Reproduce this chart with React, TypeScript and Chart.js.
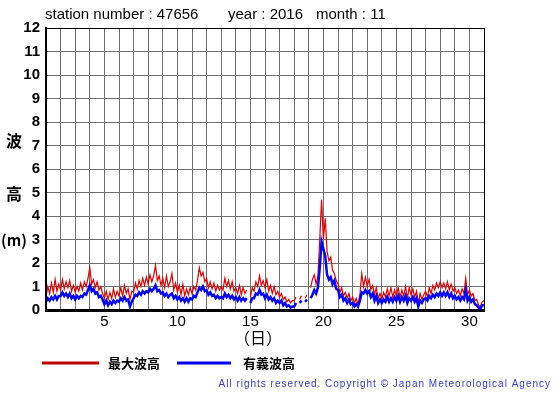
import { useEffect, useRef } from 'react';
import { Chart, registerables } from 'chart.js';

Chart.register(...registerables);

// 3-hourly samples starting at day 1 00:00 (8 per day), Nov 2016, station 47656
const STEPS_PER_DAY = 8;
const START_DAY = 1;

const maxWave: (number | null)[] = [
  // day 1
  0.55, 1.0, 0.7, 1.15, 0.75, 1.3, 0.8, 1.1,
  // day 2
  0.85, 1.3, 0.9, 1.2, 0.95, 1.25, 0.8, 1.05,
  // day 3
  0.75, 1.0, 0.8, 1.15, 0.85, 1.2, 1.0, 1.35,
  // day 4
  1.8, 1.1, 1.3, 0.95, 1.2, 0.85, 1.0, 0.7,
  // day 5
  0.5, 0.8, 0.45, 0.75, 0.5, 0.9, 0.55, 0.8,
  // day 6
  0.6, 0.95, 0.6, 1.05, 0.7, 0.9, 0.45, 0.8,
  // day 7
  0.75, 1.15, 0.9, 1.25, 1.0, 1.35, 1.05, 1.4,
  // day 8
  1.1, 1.5, 1.2, 1.45, 1.9, 1.25, 1.45, 1.05,
  // day 9
  1.35, 0.95, 1.45, 1.0, 1.2, 1.55, 0.85, 1.15,
  // day 10
  0.75, 1.05, 0.65, 1.1, 0.6, 0.9, 0.65, 0.95,
  // day 11
  0.7, 1.0, 0.85, 1.25, 1.8, 1.45, 1.6, 1.2,
  // day 12
  1.35, 0.95, 1.2, 0.9, 1.15, 0.8, 1.05, 0.85,
  // day 13
  1.0, 0.85, 1.35, 1.0, 1.25, 0.9, 1.2, 0.8,
  // day 14
  0.95, 0.7, 1.05, 0.65, 0.95, 0.7, 0.85, null,
  // day 15
  0.55, 0.95, 0.8, 1.2, 1.0, 1.45, 1.05, 1.25,
  // day 16
  0.95, 1.3, 0.8, 1.05, 0.7, 1.0, 0.65, 0.8,
  // day 17
  0.55, 0.7, 0.45, 0.55, 0.35, 0.45, 0.3, 0.4,
  // day 18
  0.4, 0.55, null, 0.45, 0.6, null, 0.5, 0.65,
  // day 19
  null, 0.95, 1.3, 1.5, 1.1, 1.45, 3.0, 4.7,
  // day 20
  3.0, 3.9, 2.5, 2.1, 2.25, 1.7, 1.55, 1.25,
  // day 21
  1.1, 0.75, 0.95, 0.6, 0.75, 0.5, 0.7, 0.4,
  // day 22
  0.55, 0.3, 0.5, 0.25, 0.65, 1.55, 1.0, 1.4,
  // day 23
  1.0, 1.3, 0.85, 1.05, 0.65, 0.95, 0.5, 0.7,
  // day 24
  0.45, 0.75, 0.55, 0.9, 0.6, 0.95, 0.55, 0.85,
  // day 25
  0.6, 0.95, 0.55, 0.85, 0.6, 1.0, 0.5, 0.95,
  // day 26
  0.65, 0.9, 0.55, 0.8, 0.3, 0.7, 0.45, 0.65,
  // day 27
  0.8, 0.55, 0.95, 0.7, 1.05, 0.85, 1.15, 0.95,
  // day 28
  1.2, 0.95, 1.15, 0.9, 1.2, 0.85, 1.1, 0.8,
  // day 29
  0.95, 0.7, 0.85, 0.6, 0.9, 0.7, 1.35, 0.65,
  // day 30
  0.85, 0.6, 0.7, 0.4, 0.45, 0.2, 0.15, 0.35,
  // day 31 00:00
  0.4,
];

const sigWave: (number | null)[] = [
  // day 1
  0.35, 0.5, 0.4, 0.55, 0.45, 0.6, 0.45, 0.6,
  // day 2
  0.6, 0.75, 0.6, 0.7, 0.55, 0.7, 0.5, 0.6,
  // day 3
  0.45, 0.6, 0.5, 0.6, 0.55, 0.7, 0.65, 0.85,
  // day 4
  1.05, 0.8, 0.9, 0.7, 0.75, 0.55, 0.6, 0.45,
  // day 5
  0.25, 0.4, 0.2, 0.35, 0.25, 0.4, 0.3, 0.4,
  // day 6
  0.35, 0.5, 0.4, 0.55, 0.4, 0.45, 0.15, 0.35,
  // day 7
  0.5, 0.65, 0.6, 0.75, 0.65, 0.8, 0.7, 0.8,
  // day 8
  0.75, 0.9, 0.8, 0.9, 1.05, 0.8, 0.85, 0.7,
  // day 9
  0.75, 0.6, 0.7, 0.55, 0.65, 0.7, 0.5, 0.6,
  // day 10
  0.45, 0.55, 0.4, 0.5, 0.35, 0.5, 0.35, 0.5,
  // day 11
  0.45, 0.6, 0.55, 0.75, 0.95, 0.85, 1.0, 0.8,
  // day 12
  0.85, 0.65, 0.75, 0.6, 0.65, 0.5, 0.6, 0.5,
  // day 13
  0.55, 0.5, 0.7, 0.55, 0.65, 0.5, 0.6, 0.45,
  // day 14
  0.55, 0.4, 0.55, 0.4, 0.5, 0.4, 0.5, null,
  // day 15
  0.3, 0.5, 0.5, 0.7, 0.65, 0.85, 0.65, 0.7,
  // day 16
  0.5, 0.65, 0.45, 0.55, 0.4, 0.5, 0.3, 0.4,
  // day 17
  0.3, 0.4, 0.2, 0.3, 0.15, 0.2, 0.1, 0.15,
  // day 18
  0.15, 0.3, null, 0.3, 0.4, null, 0.35, 0.45,
  // day 19
  null, 0.5, 0.65, 0.85, 0.7, 0.95, 1.8, 2.9,
  // day 20
  2.6, 2.3, 1.5, 1.3, 1.4, 1.1, 1.25, 0.9,
  // day 21
  0.85, 0.55, 0.65, 0.4, 0.5, 0.3, 0.45, 0.25,
  // day 22
  0.3, 0.15, 0.25, 0.15, 0.4, 0.75, 0.7, 0.85,
  // day 23
  0.7, 0.8, 0.55, 0.7, 0.4, 0.6, 0.3, 0.45,
  // day 24
  0.3, 0.45, 0.35, 0.55, 0.35, 0.5, 0.35, 0.55,
  // day 25
  0.4, 0.6, 0.35, 0.55, 0.4, 0.6, 0.3, 0.5,
  // day 26
  0.4, 0.55, 0.35, 0.5, 0.15, 0.4, 0.3, 0.45,
  // day 27
  0.5, 0.4, 0.6, 0.5, 0.65, 0.55, 0.7, 0.6,
  // day 28
  0.75, 0.6, 0.75, 0.6, 0.75, 0.55, 0.7, 0.5,
  // day 29
  0.6, 0.45, 0.55, 0.4, 0.55, 0.45, 0.85, 0.4,
  // day 30
  0.55, 0.35, 0.45, 0.25, 0.2, 0.1, 0.05, 0.2,
  // day 31 00:00
  0.2,
];

const xLabelDays = [5, 10, 15, 20, 25, 30];
const X_MIN = 1;
const X_MAX = 31;
const Y_MIN = 0;
const Y_MAX = 12;

const seriesNames = ['最大波高', '有義波高'];
const titleParts = ['station number : 47656', 'year : 2016', 'month : 11'];
const yTitleChars = ['波', '高', '(m)'];
const xTitle = '（日）';
const copyright = 'All rights reserved. Copyright © Japan Meteorological Agency';

const toPoints = (arr: (number | null)[]) =>
  arr.map((v, i) => ({ x: START_DAY + i / STEPS_PER_DAY, y: v }));

const SANS = '"Liberation Sans", Arial, sans-serif';
const CJK = '"Noto Sans CJK JP", sans-serif';

const decorPlugin = {
  id: 'decor',
  afterDraw(chart: any) {
    const ctx = chart.ctx as CanvasRenderingContext2D;
    const { left, top, right, bottom } = chart.chartArea;
    ctx.save();
    // frame
    ctx.strokeStyle = '#000';
    ctx.lineWidth = 1;
    ctx.strokeRect(left + 0.5, top + 0.5, right - left, bottom - top);
    ctx.lineWidth = 2;
    ctx.beginPath();
    ctx.moveTo(left, top);
    ctx.lineTo(left, bottom + 1);
    ctx.lineTo(right + 1, bottom + 1);
    ctx.stroke();

    // title
    ctx.fillStyle = '#000';
    ctx.textBaseline = 'middle';
    ctx.textAlign = 'left';
    ctx.font = `15px ${SANS}`;
    ctx.fillText(titleParts[0], 45, 15);
    ctx.fillText(titleParts[1], 228, 15);
    ctx.fillText(titleParts[2], 316, 15);

    // y title
    ctx.textAlign = 'center';
    ctx.font = `bold 16px ${CJK}`;
    ctx.fillText(yTitleChars[0], 14, 141);
    ctx.fillText(yTitleChars[1], 14, 194);
    ctx.textAlign = 'left';
    ctx.font = `bold 15px ${CJK}`;
    ctx.fillText(yTitleChars[2], 1, 240);

    // x title
    ctx.textAlign = 'center';
    ctx.font = `16px ${CJK}`;
    ctx.fillText(xTitle, 258, 338);

    // legend
    ctx.lineWidth = 3;
    ctx.strokeStyle = '#c00000';
    ctx.beginPath();
    ctx.moveTo(42, 363);
    ctx.lineTo(99, 363);
    ctx.stroke();
    ctx.strokeStyle = '#0000ff';
    ctx.beginPath();
    ctx.moveTo(177, 363);
    ctx.lineTo(231, 363);
    ctx.stroke();
    ctx.textAlign = 'left';
    ctx.font = `bold 13px ${CJK}`;
    ctx.fillText(seriesNames[0], 108, 363);
    ctx.fillText(seriesNames[1], 243, 363);

    // copyright
    ctx.fillStyle = '#3a3ad0';
    ctx.font = `10px ${SANS}`;
    (ctx as any).letterSpacing = '1px';
    ctx.textAlign = 'right';
    ctx.fillText(copyright, 551, 384);
    ctx.restore();
  },
};

export default function App() {
  const ref = useRef<HTMLCanvasElement | null>(null);
  useEffect(() => {
    document.body.style.margin = '0';
    const canvas = ref.current;
    if (!canvas) return;
    const chart = new Chart(canvas, {
      type: 'line',
      data: {
        datasets: [
          {
            label: seriesNames[0],
            data: toPoints(maxWave) as any,
            borderColor: '#dd0000',
            borderWidth: 1.2,
            pointRadius: 0,
            spanGaps: false,
            tension: 0,
            order: 2,
          },
          {
            label: seriesNames[1],
            data: toPoints(sigWave) as any,
            borderColor: '#0000ff',
            borderWidth: 2.5,
            pointRadius: 0,
            spanGaps: false,
            tension: 0,
            order: 1,
          },
        ],
      },
      options: {
        responsive: false,
        animation: false,
        devicePixelRatio: 1,
        layout: { padding: { top: 28, right: 71, left: 0, bottom: 0 } },
        plugins: {
          legend: { display: false },
          tooltip: { enabled: false },
          title: { display: false },
        },
        scales: {
          x: {
            type: 'linear',
            min: X_MIN,
            max: X_MAX,
            grid: { color: '#707070', lineWidth: 1, drawTicks: false },
            border: { color: '#000', width: 2 },
            ticks: {
              stepSize: 1,
              autoSkip: false,
              maxRotation: 0,
              padding: 3,
              color: '#000',
              font: { family: SANS, size: 15 },
              callback: (v: any) => (xLabelDays.includes(Number(v)) ? String(v) : ''),
            },
            afterFit: (s: any) => {
              s.height = 85;
            },
          },
          y: {
            min: Y_MIN,
            max: Y_MAX,
            grid: { color: '#707070', lineWidth: 1, drawTicks: false },
            border: { color: '#000', width: 2 },
            ticks: {
              stepSize: 1,
              padding: 6,
              color: '#000',
              font: { family: SANS, size: 15, weight: 'bold' },
            },
            afterFit: (s: any) => {
              s.width = 46;
            },
          },
        },
      },
      plugins: [decorPlugin],
    });
    return () => chart.destroy();
  }, []);
  return (
    <canvas
      ref={ref}
      width={555}
      height={395}
      style={{ display: 'block', width: 555, height: 395 }}
    />
  );
}
